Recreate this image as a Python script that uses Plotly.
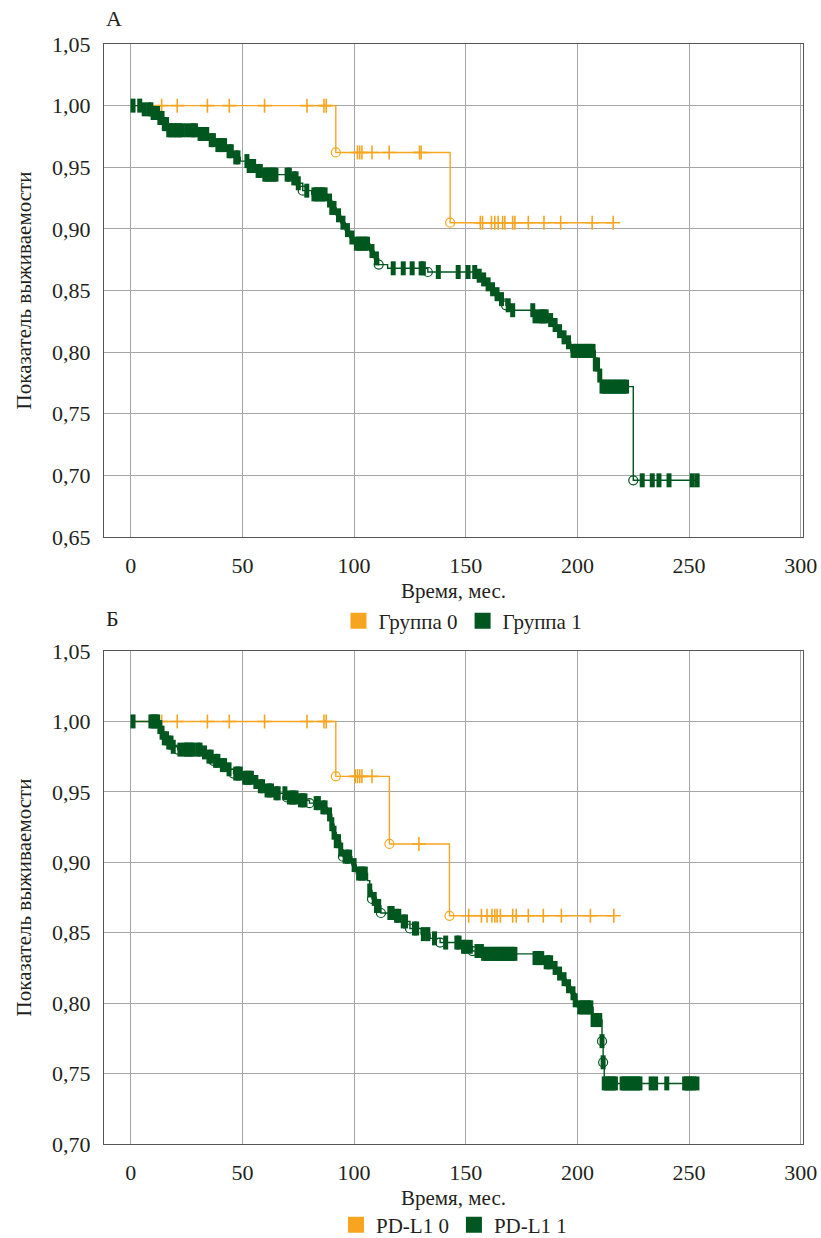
import numpy as np
import plotly.graph_objects as go

# ---------------- DATA ----------------
# Panel A (top)
a_g0_step_t = [0, 91.8, 143]
a_g0_step_s = [1.0, 0.962, 0.905]
a_g0_end = 216
a_g0_cens = [13.8, 20.8, 34.3, 44.1, 59.9, 78.9, 86.5, 87.5,
             101.5, 102.5, 103.5, 108, 115.7, 129.3, 130,
             156.5, 157.5, 161.5, 163, 164.5, 166.5, 167.5, 171, 172,
             178, 185, 192.5, 206.6, 216]
a_g0_circ = [91.8, 143]

a_g1_step_t = [0, 5, 10, 13, 15, 17, 30, 35, 38, 43, 46, 49, 53, 56, 59, 72, 75, 77,
               81, 88, 90, 92, 94, 96, 98, 100, 107, 109, 111, 115, 133, 155, 157,
               159, 161, 163, 165, 168, 170, 181, 187, 189, 191, 193, 195, 197,
               208, 209.5, 210.5, 225]
a_g1_step_s = [1.0, 0.997, 0.994, 0.99, 0.985, 0.98, 0.977, 0.972, 0.968, 0.963,
               0.958, 0.955, 0.951, 0.947, 0.944, 0.941, 0.937, 0.931,
               0.928, 0.923, 0.917, 0.911, 0.905, 0.899, 0.893, 0.888, 0.882,
               0.876, 0.871, 0.868, 0.865, 0.862, 0.859,
               0.855, 0.851, 0.847, 0.843, 0.838, 0.834, 0.829, 0.826, 0.822,
               0.817, 0.812, 0.808, 0.801, 0.79, 0.781, 0.772, 0.696]
a_g1_end = 254
a_g1_cens = [1, 4, 6, 8, 9, 10, 11, 12, 13, 14, 15, 16, 17, 18, 19, 20, 21, 22, 23,
             25, 27, 28, 29, 31, 32, 33, 34, 36, 37, 39, 40, 41, 42, 44, 45, 47, 48,
             52, 53, 54, 55, 57, 58, 60, 61, 62, 63, 64, 65, 70, 71, 73, 74, 75,
             78.8, 82, 83, 84, 85, 86, 87, 89, 90, 91, 93, 95, 97, 99, 101, 102,
             103, 104, 105, 106, 108, 110, 117.5, 122, 126, 130, 131, 137.7,
             146.6, 151, 154, 156, 158, 160, 162, 164, 166, 169, 171, 180, 181,
             183, 184, 185, 186, 188, 190, 192, 194, 196, 198, 199, 200, 201, 202,
             203, 204, 205, 206, 207, 208, 209, 210, 211, 212, 213, 214, 215, 216,
             217, 218, 219, 220, 221, 222, 229, 233.5, 236.5, 241, 251.4, 253.6]
a_g1_circ = [77, 111, 133, 168, 225]

# Panel B (bottom)
b_g0_step_t = [0, 91.8, 115.8, 142.7]
b_g0_step_s = [1.0, 0.961, 0.913, 0.862]
b_g0_end = 216.3
b_g0_cens = [13.8, 20.8, 34.3, 44.1, 59.9, 78.9, 86.5, 87.5,
             100.5, 101.5, 102.5, 103.5, 108, 129,
             151.3, 157, 159.5, 161.7, 163, 164, 165.5, 171, 172.6,
             178, 184.7, 192.8, 205.8, 216.3]
b_g0_circ = [91.8, 115.8, 142.7]

b_g1_step_t = [0, 13, 14, 15, 17, 19, 21, 32, 34, 37, 40, 43, 46, 50, 55, 57, 60,
               64, 70, 75, 80, 85, 88, 90, 91, 92, 94, 95, 99, 101, 106, 107, 108,
               110, 112, 118, 121, 125, 130, 134, 138.5, 148, 153, 158, 181, 185,
               189, 191, 193, 195, 197, 199, 200, 207, 211, 211.5, 212]
b_g1_step_s = [1.0, 0.996, 0.992, 0.988, 0.985, 0.982, 0.98, 0.978, 0.975, 0.972,
               0.969, 0.966, 0.963, 0.96, 0.957, 0.954, 0.951, 0.949, 0.946,
               0.944, 0.942, 0.939, 0.934, 0.927, 0.921, 0.915, 0.909, 0.904,
               0.898, 0.892, 0.887, 0.88, 0.874, 0.869, 0.864, 0.862, 0.858,
               0.853, 0.849, 0.846, 0.843, 0.84, 0.837, 0.835, 0.832, 0.829,
               0.825, 0.821, 0.817, 0.812, 0.807, 0.802, 0.797, 0.788, 0.773,
               0.758, 0.743]
b_g1_end = 254
b_g1_cens = [1, 9, 10, 11, 12, 13, 14, 15, 16, 17, 18, 19, 22, 24, 25, 26, 27, 28,
             30, 31, 33, 35, 36, 38, 39, 41, 42, 44, 47, 48, 49, 51, 52, 53, 54,
             56, 58, 59, 61, 62, 63, 65, 66, 69, 71, 72, 73, 74, 76, 77, 78, 83,
             84, 86, 87, 89, 90, 91, 92, 93, 94, 96, 97, 98, 100, 102, 103, 104,
             105, 107, 109, 110, 111, 116, 117, 119, 120, 122, 123, 127, 128, 131,
             133, 136, 141, 146, 147, 149, 150, 152, 155, 157, 158, 159, 160, 161,
             162, 163, 164, 165, 166, 167, 168, 169, 170, 171, 172, 181, 182, 183,
             184, 186, 187, 188, 190, 192, 194, 196, 198, 199, 201, 202, 203, 204,
             205, 206, 207, 208, 209, 210, 211, 211.5, 212, 213, 214, 215, 216,
             217, 220, 221, 222, 223, 224, 225, 226, 227, 228, 233, 235, 240, 248,
             249, 250, 251, 252, 253.5]
b_g1_circ = [21, 37, 46, 70, 80, 95, 108, 112, 125, 138.5, 153, 211, 211.5]

x_ticks = [0, 50, 100, 150, 200, 250, 300]
a_y_ticks = [0.65, 0.70, 0.75, 0.80, 0.85, 0.90, 0.95, 1.00, 1.05]
b_y_ticks = [0.70, 0.75, 0.80, 0.85, 0.90, 0.95, 1.00, 1.05]

legend_a = ["Группа 0", "Группа 1"]
legend_b = ["PD-L1 0", "PD-L1 1"]
x_title = "Время, мес."
y_title = "Показатель выживаемости"
panel_labels = ["А", "Б"]

# ---------------- STYLE ----------------
ORANGE = "#F7A521"
GREEN = "#00561F"
FONT = "Liberation Serif"
TXT = "#231F20"


def surv_at(times, st, ss):
    st = np.asarray(st)
    ss = np.asarray(ss)
    idx = np.searchsorted(st, np.asarray(times), side="right") - 1
    idx = np.clip(idx, 0, len(ss) - 1)
    return ss[idx]


fig = go.Figure()


def add_group(st, ss, end, cens, circ, color, xa, ya, is_green):
    xs = list(st) + [end]
    ys = list(ss) + [ss[-1]]
    fig.add_trace(go.Scatter(x=xs, y=ys, mode="lines", line=dict(color=color, width=1.4, shape="hv"),
                             xaxis=xa, yaxis=ya, showlegend=False, hoverinfo="skip"))
    cy = surv_at(cens, st, ss)
    if is_green:
        fig.add_trace(go.Scatter(x=cens, y=cy, mode="markers",
                                 marker=dict(symbol="line-ns-open", size=10, color=color,
                                             line=dict(color=color, width=5)),
                                 xaxis=xa, yaxis=ya, showlegend=False, hoverinfo="skip"))
    else:
        fig.add_trace(go.Scatter(x=cens, y=cy, mode="markers",
                                 marker=dict(symbol="cross-thin-open", size=10, color=color,
                                             line=dict(color=color, width=1.6)),
                                 xaxis=xa, yaxis=ya, showlegend=False, hoverinfo="skip"))
    ey = surv_at(circ, st, ss)
    fig.add_trace(go.Scatter(x=circ, y=ey, mode="markers",
                             marker=dict(symbol="circle-open", size=9, color=color,
                                         line=dict(color=color, width=1.2)),
                             xaxis=xa, yaxis=ya, showlegend=False, hoverinfo="skip"))


add_group(a_g0_step_t, a_g0_step_s, a_g0_end, a_g0_cens, a_g0_circ, ORANGE, "x", "y", False)
add_group(a_g1_step_t, a_g1_step_s, a_g1_end, a_g1_cens, a_g1_circ, GREEN, "x", "y", True)
add_group(b_g0_step_t, b_g0_step_s, b_g0_end, b_g0_cens, b_g0_circ, ORANGE, "x2", "y2", False)
add_group(b_g1_step_t, b_g1_step_s, b_g1_end, b_g1_cens, b_g1_circ, GREEN, "x2", "y2", True)

# legend entries
for name, col in zip(legend_a, [ORANGE, GREEN]):
    fig.add_trace(go.Scatter(x=[None], y=[None], mode="markers", name=name,
                             marker=dict(symbol="square", size=16, color=col),
                             xaxis="x", yaxis="y", legend="legend"))
for name, col in zip(legend_b, [ORANGE, GREEN]):
    fig.add_trace(go.Scatter(x=[None], y=[None], mode="markers", name=name,
                             marker=dict(symbol="square", size=16, color=col),
                             xaxis="x2", yaxis="y2", legend="legend2"))

H = 1238.0
W = 821.0
xdom = [104 / W, 803 / W]
ydom_a = [1 - 537 / H, 1 - 44 / H]
ydom_b = [1 - 1144 / H, 1 - 651 / H]

axis_common = dict(showline=True, mirror=True, linecolor="#555555", linewidth=1.2,
                   showgrid=True, gridcolor="#A6A6A6", gridwidth=1, zeroline=False,
                   tickfont=dict(family=FONT, size=22, color=TXT),
                   ticks="", ticklabelstandoff=8, automargin=False)

xaxis_cfg = dict(axis_common, range=[-12, 301], tickvals=x_ticks, domain=xdom,
                 title=dict(text=x_title, font=dict(family=FONT, size=21, color=TXT), standoff=6))

fig.update_layout(
    width=821, height=1238, autosize=False,
    margin=dict(l=0, r=0, t=0, b=0, autoexpand=False),
    paper_bgcolor="white", plot_bgcolor="white",
    separators=", ",
    font=dict(family=FONT, size=22, color=TXT),
    xaxis=dict(xaxis_cfg, anchor="y"),
    yaxis=dict(axis_common, range=[0.65, 1.05], tickvals=a_y_ticks, tickformat=".2f",
               domain=ydom_a, anchor="x",
               title=dict(text=y_title, font=dict(family=FONT, size=21, color=TXT), standoff=14)),
    xaxis2=dict(xaxis_cfg, anchor="y2"),
    yaxis2=dict(axis_common, range=[0.70, 1.05], tickvals=b_y_ticks, tickformat=".2f",
                domain=ydom_b, anchor="x2",
                title=dict(text=y_title, font=dict(family=FONT, size=21, color=TXT), standoff=14)),
    legend=dict(orientation="h", x=463 / W, xanchor="center", y=1 - 621 / H, yanchor="middle",
                font=dict(family=FONT, size=21, color=TXT), itemsizing="trace",
                bgcolor="rgba(0,0,0,0)"),
    legend2=dict(orientation="h", x=454 / W, xanchor="center", y=1 - 1225 / H, yanchor="middle",
                 font=dict(family=FONT, size=21, color=TXT), itemsizing="trace",
                 bgcolor="rgba(0,0,0,0)"),
    showlegend=True,
)

fig.add_annotation(text=panel_labels[0], x=104 / W, y=1 - 18 / H, xref="paper", yref="paper",
                   xanchor="left", yanchor="middle", showarrow=False,
                   font=dict(family=FONT, size=22, color=TXT))
fig.add_annotation(text=panel_labels[1], x=104 / W, y=1 - 618 / H, xref="paper", yref="paper",
                   xanchor="left", yanchor="middle", showarrow=False,
                   font=dict(family=FONT, size=22, color=TXT))

fig.write_html("out.html")
